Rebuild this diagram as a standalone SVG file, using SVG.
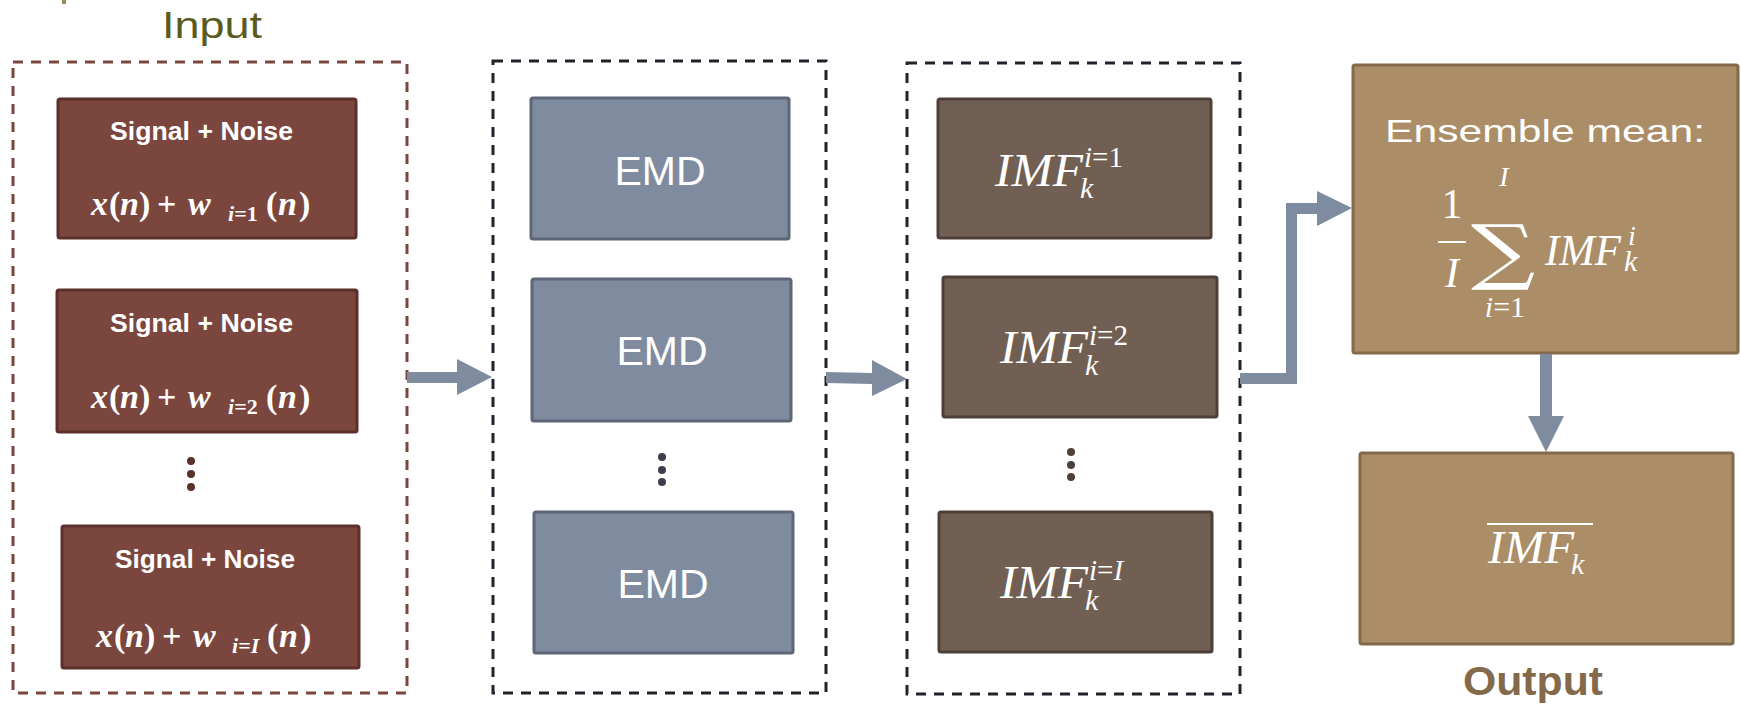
<svg xmlns="http://www.w3.org/2000/svg" width="1741" height="705" viewBox="0 0 1741 705">
<style>
.sig{fill:#7b463e;stroke:#5b302a;stroke-width:3}
.emd{fill:#7f8c9f;stroke:#5d6777;stroke-width:3}
.imf{fill:#715f53;stroke:#4e4038;stroke-width:3}
.ens{fill:#ab8e67;stroke:#84694a;stroke-width:3}
.dash{fill:none;stroke-width:3;stroke-dasharray:10 8}
.st{font-family:"Liberation Sans",Arial,sans-serif;font-weight:bold;font-size:25px;fill:#fff}
.fm{font-family:"Liberation Serif","Times New Roman",serif;font-weight:bold;font-size:34px;fill:#fff}
.it{font-style:italic}
.sub{font-size:22px}
.emdt{font-family:"Liberation Sans",Arial,sans-serif;font-size:41px;fill:#fff;text-anchor:middle}
.m{font-family:"Liberation Serif","Times New Roman",serif;font-style:italic;fill:#fff}
.arr{fill:#7f8ca0}
</style>
<rect x="62" y="0" width="4" height="4" fill="#a08a60"/>
<text x="162" y="38" font-family="Liberation Sans, Arial, sans-serif" font-size="36" fill="#5a5a1e" textLength="100" lengthAdjust="spacingAndGlyphs">Input</text>

<g id="input-group">
<rect class="dash" x="13" y="62" width="394" height="631" stroke="#7b463e"/>
</g>
<g id="signal1">
<rect class="sig" x="58" y="99" width="298" height="139" rx="2"/>
<text class="st" x="110" y="140" textLength="183" lengthAdjust="spacingAndGlyphs">Signal + Noise</text>
<text class="fm" y="215"><tspan class="it" x="91">x</tspan><tspan x="109">(</tspan><tspan class="it" x="120">n</tspan><tspan x="139">)</tspan><tspan x="157">+</tspan><tspan class="it" x="188">w</tspan><tspan class="sub" x="228" y="221"><tspan class="it">i</tspan>=1</tspan><tspan x="266" y="215">(</tspan><tspan class="it" x="278">n</tspan><tspan x="299">)</tspan></text>
</g>
<g id="signal2">
<rect class="sig" x="57" y="290" width="300" height="142" rx="2"/>
<text class="st" x="110" y="332" textLength="183" lengthAdjust="spacingAndGlyphs">Signal + Noise</text>
<text class="fm" y="408"><tspan class="it" x="91">x</tspan><tspan x="109">(</tspan><tspan class="it" x="120">n</tspan><tspan x="139">)</tspan><tspan x="157">+</tspan><tspan class="it" x="188">w</tspan><tspan class="sub" x="228" y="414"><tspan class="it">i</tspan>=2</tspan><tspan x="266" y="408">(</tspan><tspan class="it" x="278">n</tspan><tspan x="299">)</tspan></text>
</g>
<g id="dots1" fill="#5b302a">
<circle cx="191" cy="461" r="4"/><circle cx="191" cy="474" r="4"/><circle cx="191" cy="487" r="4"/>
</g>
<g id="signal3">
<rect class="sig" x="62" y="526" width="297" height="142" rx="2"/>
<text class="st" x="115" y="568" textLength="180" lengthAdjust="spacingAndGlyphs">Signal + Noise</text>
<text class="fm" y="647"><tspan class="it" x="96">x</tspan><tspan x="114">(</tspan><tspan class="it" x="125">n</tspan><tspan x="144">)</tspan><tspan x="162">+</tspan><tspan class="it" x="193">w</tspan><tspan class="sub" x="232" y="653"><tspan class="it">i</tspan>=<tspan class="it">I</tspan></tspan><tspan x="267" y="647">(</tspan><tspan class="it" x="279">n</tspan><tspan x="300">)</tspan></text>
</g>

<g id="emd-group">
<rect class="dash" x="493" y="61" width="333" height="632" stroke="#22222c"/>
</g>
<g id="emd1">
<rect class="emd" x="531" y="98" width="258" height="141" rx="2"/>
<text class="emdt" x="660" y="185">EMD</text>
</g>
<g id="emd2">
<rect class="emd" x="532" y="279" width="259" height="142" rx="2"/>
<text class="emdt" x="662" y="365">EMD</text>
</g>
<g id="dots2" fill="#3e3e4e">
<circle cx="662" cy="457" r="4"/><circle cx="662" cy="470" r="4"/><circle cx="662" cy="482" r="4"/>
</g>
<g id="emd3">
<rect class="emd" x="534" y="512" width="259" height="141" rx="2"/>
<text class="emdt" x="663" y="598">EMD</text>
</g>

<g id="imf-group">
<rect class="dash" x="907" y="63" width="333" height="631" stroke="#22222c"/>
</g>
<g id="imf1">
<rect class="imf" x="938" y="99" width="273" height="139" rx="2"/>
<text class="m" x="995" y="186" font-size="46" textLength="88" lengthAdjust="spacingAndGlyphs">IMF</text>
<text class="m" x="1080" y="198" font-size="30">k</text>
<text class="m" x="1084" y="167" font-size="29">i<tspan font-style="normal">=1</tspan></text>
</g>
<g id="imf2">
<rect class="imf" x="943" y="277" width="274" height="140" rx="2"/>
<text class="m" x="1000" y="363" font-size="46" textLength="88" lengthAdjust="spacingAndGlyphs">IMF</text>
<text class="m" x="1085" y="375" font-size="30">k</text>
<text class="m" x="1089" y="345" font-size="29">i<tspan font-style="normal">=2</tspan></text>
</g>
<g id="dots3" fill="#4e4038">
<circle cx="1071" cy="452" r="4"/><circle cx="1071" cy="465" r="4"/><circle cx="1071" cy="477" r="4"/>
</g>
<g id="imf3">
<rect class="imf" x="939" y="512" width="273" height="140" rx="2"/>
<text class="m" x="1000" y="598" font-size="46" textLength="88" lengthAdjust="spacingAndGlyphs">IMF</text>
<text class="m" x="1085" y="610" font-size="30">k</text>
<text class="m" x="1089" y="580" font-size="29">i<tspan font-style="normal">=</tspan>I</text>
</g>

<g id="ensemble">
<rect class="ens" x="1353" y="65" width="385" height="288" rx="2"/>
<text x="1385" y="142" font-family="Liberation Sans, Arial, sans-serif" font-size="32" fill="#fff" textLength="320" lengthAdjust="spacingAndGlyphs">Ensemble mean:</text>
<text x="1452" y="218" font-family="Liberation Serif, Times New Roman, serif" font-size="42" fill="#fff" text-anchor="middle">1</text>
<line x1="1438" y1="242" x2="1466" y2="242" stroke="#fff" stroke-width="2"/>
<text class="m" x="1452" y="287" font-size="42" text-anchor="middle">I</text>
<text transform="translate(1503,276) scale(1.25,1)" font-family="DejaVu Serif, serif" font-size="72" fill="#fff" text-anchor="middle">∑</text>
<text class="m" x="1504" y="186" font-size="28" text-anchor="middle">I</text>
<text class="m" x="1505" y="317" font-size="30" text-anchor="middle">i<tspan font-style="normal">=1</tspan></text>
<text class="m" x="1545" y="265" font-size="44" textLength="76" lengthAdjust="spacingAndGlyphs">IMF</text>
<text class="m" x="1624" y="271" font-size="30">k</text>
<text class="m" x="1628" y="245" font-size="28">i</text>
</g>
<g id="output">
<rect class="ens" x="1360" y="453" width="373" height="191" rx="2"/>
<line x1="1487" y1="524" x2="1593" y2="524" stroke="#fff" stroke-width="2"/>
<text class="m" x="1488" y="563" font-size="46" textLength="86" lengthAdjust="spacingAndGlyphs">IMF</text>
<text class="m" x="1571" y="574" font-size="30">k</text>
</g>
<text x="1463" y="695" font-family="Liberation Sans, Arial, sans-serif" font-weight="bold" font-size="40" fill="#84694a" textLength="140" lengthAdjust="spacingAndGlyphs">Output</text>

<g id="connectors" class="arr">
<polygon points="407,372 457,372 457,359 492,377 457,395 457,383 407,383"/>
<polygon points="826,372 872,373 872,360 907,379 872,396 872,384 826,383"/>
<polygon points="1240,373 1286,373 1286,203 1317,203 1317,191 1352,208 1317,226 1317,214 1297,214 1297,384 1240,384"/>
<polygon points="1540,354 1552,354 1552,416 1564,416 1546,452 1528,416 1540,416"/>
</g>
</svg>
